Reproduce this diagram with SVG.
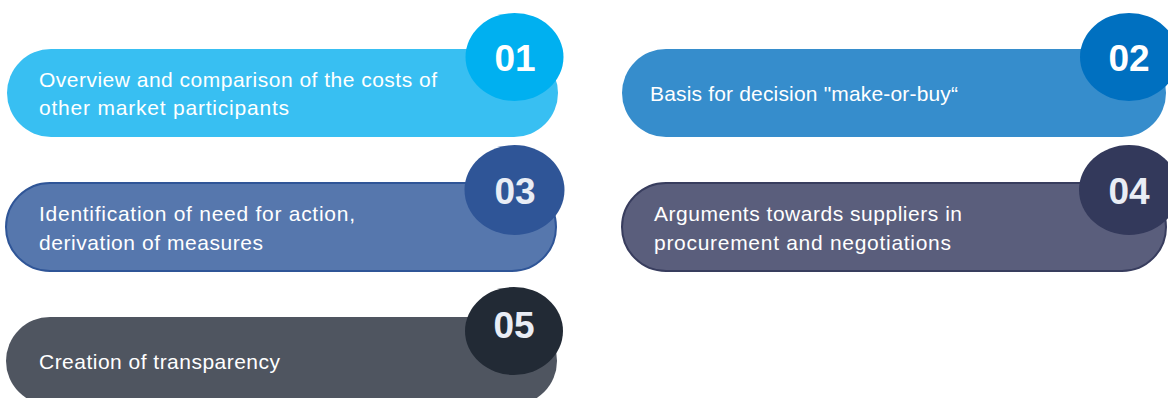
<svg xmlns="http://www.w3.org/2000/svg" width="1168" height="398" viewBox="0 0 1168 398">
<style>
.t{font-family:"Liberation Sans","Noto Sans",Arial,sans-serif;font-size:21px;fill:#FFFFFF}
.n{font-family:"Liberation Sans","Noto Sans",Arial,sans-serif;font-size:37px;font-weight:bold;fill:#FFFFFF;text-anchor:middle}
.n2{fill:#E9EDF5}
</style>
<rect width="1168" height="398" fill="#FFFFFF"/>
<g id="connectors"/>
<g id="node01">
<rect x="7" y="49" width="551" height="88" rx="44" fill="#38BFF2"/>
<ellipse cx="514.5" cy="57" rx="49" ry="44" fill="#00B0F0"/>
<text class="n" x="515" y="71">01</text>
<text class="t" x="39" y="87" textLength="398">Overview and comparison of the costs of</text>
<text class="t" x="39" y="115" textLength="250">other market participants</text>
</g>
<g id="node02">
<rect x="622" y="49" width="544" height="88" rx="44" fill="#368DCC"/>
<ellipse cx="1129" cy="57" rx="49" ry="44" fill="#0070C0"/>
<text class="n" x="1129" y="71">02</text>
<text class="t" x="650" y="101" textLength="308">Basis for decision "make-or-buy“</text>
</g>
<g id="node03">
<rect x="6" y="183" width="550" height="88" rx="44" fill="#5677AD" stroke="#2F5597" stroke-width="2"/>
<ellipse cx="514.5" cy="190" rx="50" ry="45" fill="#2F5597"/>
<text class="n n2" x="515" y="204">03</text>
<text class="t" x="39" y="221" textLength="316">Identification of need for action,</text>
<text class="t" x="39" y="250" textLength="224">derivation of measures</text>
</g>
<g id="node04">
<rect x="622" y="183" width="544" height="88" rx="44" fill="#5A5E7C" stroke="#383D5E" stroke-width="2"/>
<ellipse cx="1129" cy="190" rx="50" ry="45" fill="#33395B"/>
<text class="n n2" x="1129" y="204">04</text>
<text class="t" x="654" y="221" textLength="308">Arguments towards suppliers in</text>
<text class="t" x="654" y="250" textLength="297">procurement and negotiations</text>
</g>
<g id="node05">
<rect x="6" y="317" width="551" height="88" rx="44" fill="#4F5560"/>
<ellipse cx="514" cy="331" rx="49" ry="44" fill="#222A35"/>
<text class="n n2" x="514" y="338">05</text>
<text class="t" x="39" y="369" textLength="241">Creation of transparency</text>
</g>
</svg>
